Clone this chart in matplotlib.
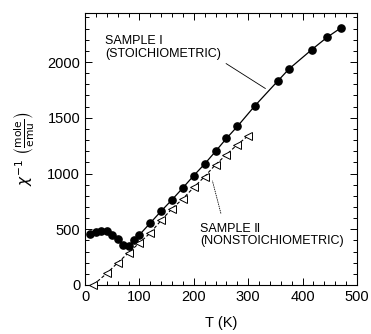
import matplotlib
matplotlib.use("Agg")
import matplotlib.pyplot as plt
from matplotlib.ticker import MultipleLocator

# Sample I (stoichiometric) - filled circles
t1 = [10, 20, 30, 40, 50, 60, 70, 80, 90, 100, 120, 140, 160, 180, 200,
      220, 240, 260, 280, 312, 354, 375, 417, 445, 470]
chi1 = [455, 476, 485, 482, 450, 411, 356, 352, 402, 450, 556, 663, 765, 872, 982,
        1086, 1199, 1315, 1422, 1606, 1828, 1938, 2112, 2222, 2305]

# Sample II (nonstoichiometric) - open triangles
t2 = [15, 40, 60, 80, 100, 120, 140, 160, 180, 200, 220, 240, 260, 280, 300]
chi2 = [0, 104, 199, 289, 378, 467, 580, 685, 774, 876, 973, 1080, 1170, 1259, 1339]

xticks = [0, 100, 200, 300, 400, 500]
yticks = [0, 500, 1000, 1500, 2000]

plt.rcParams['font.family'] = ['Liberation Sans', 'DejaVu Sans']

fig = plt.figure(figsize=(3.71, 3.34), dpi=100)
ax = fig.add_axes([85/371, 1-285/334, (357-85)/371, (285-13)/334])

ax.plot(t1, chi1, '-', color='black', lw=0.9, marker='o', ms=5.2,
        mfc='black', mec='black', zorder=3)
ax.plot(t2, chi2, linestyle=(0, (3, 2)), color='black', lw=0.8, marker='<', ms=6,
        mfc='white', mec='black', mew=0.7, zorder=3, clip_on=False)

ax.set_xlim(0, 500)
ax.set_ylim(0, 2440)
ax.set_xticks(xticks)
ax.set_yticks(yticks)
ax.xaxis.set_minor_locator(MultipleLocator(20))
ax.yaxis.set_minor_locator(MultipleLocator(100))
ax.tick_params(which='both', direction='in', top=True, right=True, width=0.7)
ax.tick_params(which='major', length=5, labelsize=10.5)
ax.tick_params(which='minor', length=3)
for s in ax.spines.values():
    s.set_linewidth(0.8)

ax.set_xlabel('T (K)', fontsize=10.5, labelpad=9)
ax.set_ylabel(r'$\chi^{-1}\ \left(\frac{\mathrm{mole}}{\mathrm{emu}}\right)$',
              fontsize=11, labelpad=8)

ax.text(37, 2240, 'SAMPLE \u2160\n(STOICHIOMETRIC)', fontsize=9, va='top',
        ha='left', linespacing=1.1)
ax.annotate('', xy=(336, 1749), xytext=(255, 2000),
            arrowprops=dict(arrowstyle='-', lw=0.6, color='black'))

ax.text(212, 560, 'SAMPLE \u2161\n(NONSTOICHIOMETRIC)', fontsize=9, va='top',
        ha='left', linespacing=1.1)
ax.annotate('', xy=(233, 957), xytext=(251, 620),
            arrowprops=dict(arrowstyle='-', lw=0.6, color='black', linestyle=':'))

fig.savefig('out.png', dpi=100)
